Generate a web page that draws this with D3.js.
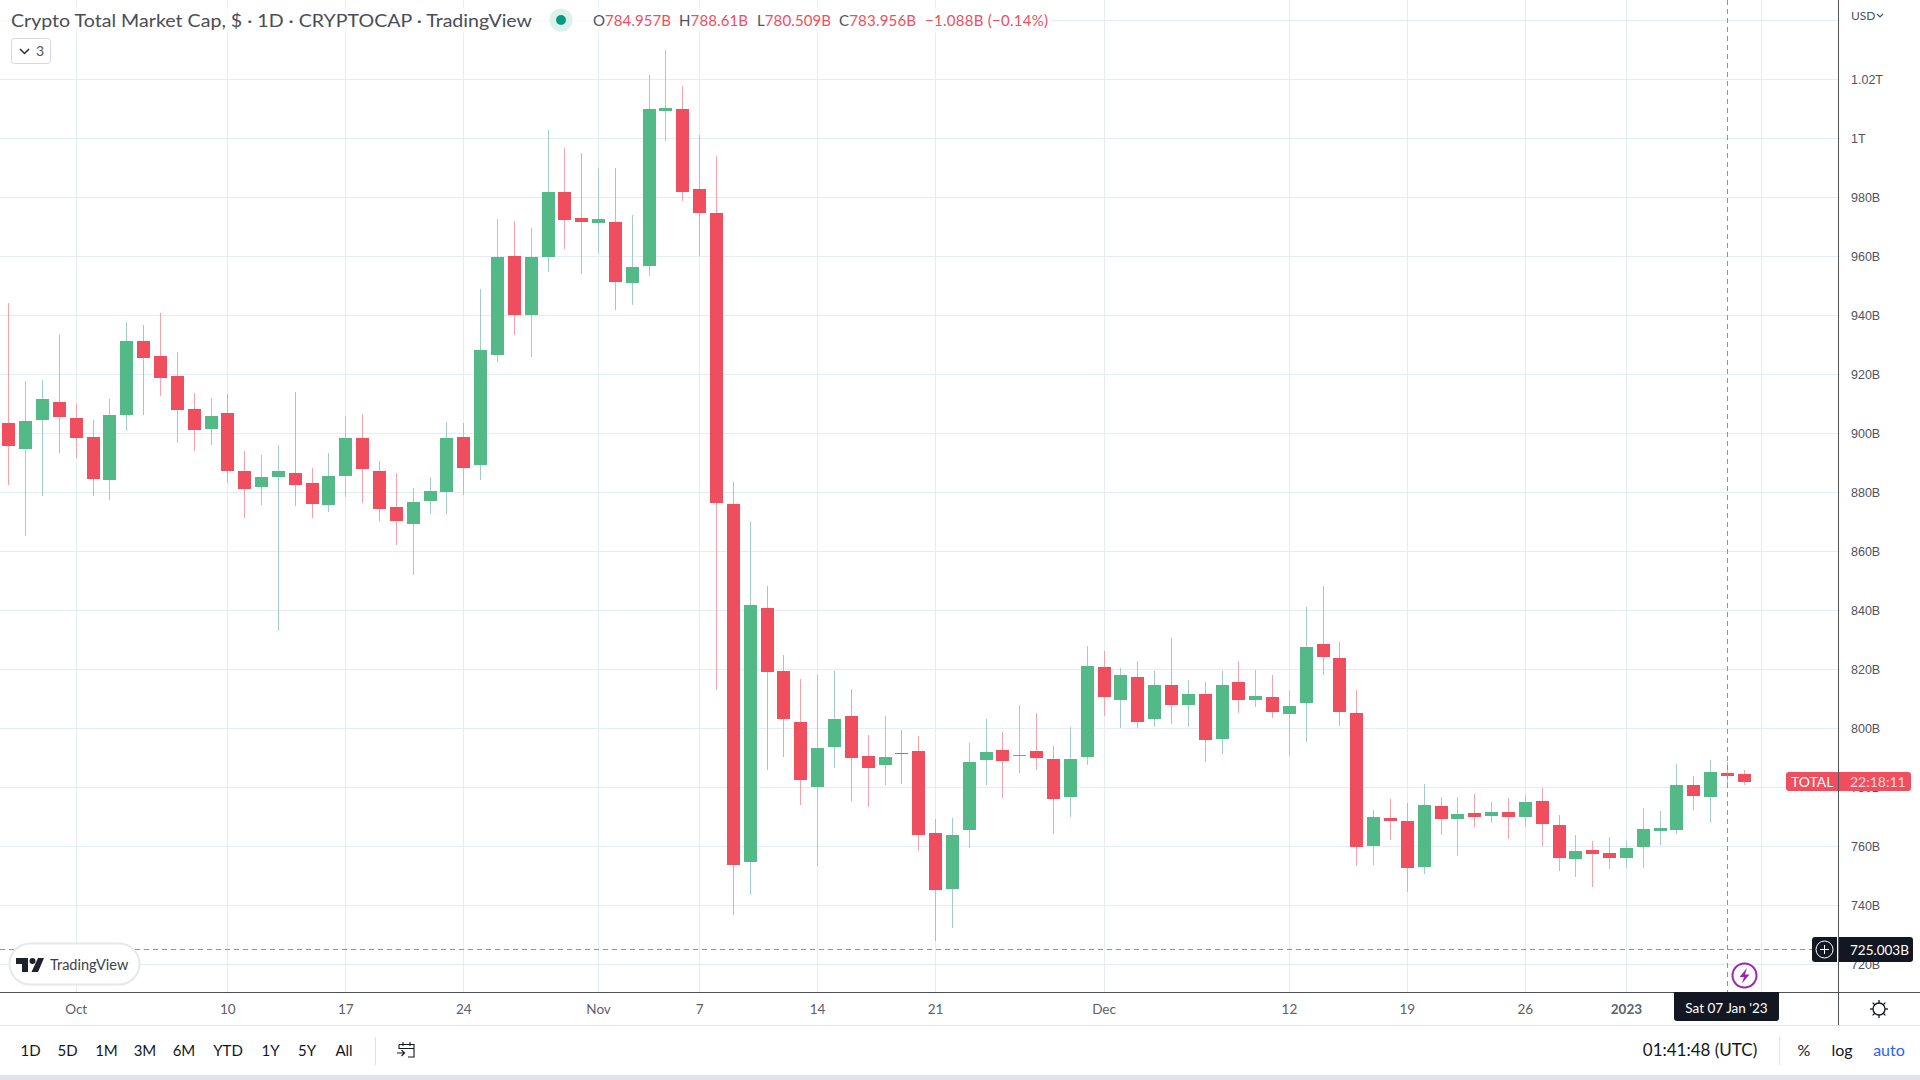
<!DOCTYPE html>
<html>
<head>
<meta charset="utf-8">
<title>Crypto Total Market Cap</title>
<script src="https://cdn.jsdelivr.net/npm/d3@7"></script>
<style>
  html, body { margin: 0; padding: 0; background: #fff; overflow: hidden; }
  svg { display: block; }
  text { font-family: "Lato", "Open Sans", sans-serif; }
  .price text { font-family: "Liberation Sans", sans-serif; }
</style>
</head>
<body>
<div id="chart"></div>
<script>
// daily candles, values in billions
const firstDay = "2022-09-27";
const lastDay = "2023-01-08";

const opens = [
  903.5, 894.7, 904.5, 910.6, 905.2, 898.8, 884.2, 906.2, 931.3, 926.2,
  919.4, 908.2, 901.5, 906.9, 887.2, 881.8, 885.2, 886.5, 883.2, 875.7,
  885.5, 898.4, 887.2, 875.0, 869.3, 877.1, 880.1, 898.8, 889.3, 926.5,
  960.1, 940.1, 959.8, 981.8, 973.0, 971.3, 971.6, 950.9, 956.7, 1009.2,
  1009.9, 982.8, 974.7, 876.0, 754.7, 840.8, 819.4, 802.1, 780.1, 793.7,
  804.2, 790.6, 787.6, 791.6, 792.3, 764.5, 745.5, 765.5, 789.3, 792.6,
  790.6, 792.3, 789.6, 776.7, 790.3, 820.8, 809.6, 817.4, 803.2, 814.7,
  807.9, 811.6, 796.4, 815.7, 809.6, 810.6, 804.9, 808.6, 828.6, 823.8,
  805.2, 760.1, 769.6, 768.6, 753.0, 773.7, 769.3, 771.3, 770.3, 771.6,
  769.9, 775.3, 767.2, 755.7, 758.7, 757.7, 756.0, 759.7, 765.2, 765.5,
  780.8, 776.7, 784.957, 784.5
];
const highs = [
  944.1, 917.7, 918.1, 933.3, 909.9, 904.5, 911.6, 937.7, 936.7, 940.8,
  927.6, 913.7, 912.0, 913.3, 894.0, 892.6, 896.0, 914.0, 888.2, 893.3,
  905.9, 906.5, 890.6, 886.5, 881.5, 885.2, 903.8, 903.5, 948.9, 972.6,
  972.0, 969.6, 1002.8, 996.7, 995.0, 989.9, 989.9, 974.0, 1021.5, 1029.9,
  1017.7, 1001.1, 994.0, 883.5, 870.3, 848.2, 824.8, 816.7, 818.1, 819.4,
  813.3, 797.7, 804.2, 799.4, 797.4, 769.3, 769.6, 795.0, 803.2, 798.7,
  807.9, 805.2, 794.0, 800.5, 827.9, 826.2, 820.4, 822.8, 819.4, 830.6,
  816.4, 815.7, 819.4, 822.8, 819.8, 818.1, 812.6, 841.1, 848.2, 829.3,
  813.0, 772.3, 776.0, 774.7, 781.1, 776.7, 776.7, 777.7, 775.0, 776.4,
  777.4, 779.8, 770.6, 763.8, 761.8, 763.1, 761.8, 773.0, 772.0, 787.9,
  783.8, 789.2, 788.61, 785.9
];
const lows = [
  882.5, 865.2, 878.8, 893.3, 891.6, 878.8, 877.4, 900.8, 906.2, 912.6,
  896.7, 894.0, 896.0, 883.2, 871.3, 875.7, 833.1, 875.4, 871.3, 873.3,
  878.4, 876.4, 870.3, 862.1, 852.0, 872.7, 872.7, 879.1, 884.2, 924.2,
  933.3, 925.9, 954.7, 962.5, 954.0, 961.1, 941.8, 943.5, 953.3, 999.1,
  978.7, 960.1, 813.0, 736.7, 743.5, 785.9, 790.3, 774.0, 753.3, 786.5,
  775.4, 773.3, 780.8, 781.1, 758.4, 727.9, 732.3, 759.4, 780.8, 776.4,
  784.8, 785.9, 764.2, 769.9, 787.6, 804.2, 800.1, 800.1, 800.4, 801.5,
  800.4, 788.6, 791.3, 805.2, 807.2, 803.5, 790.6, 795.4, 818.1, 800.8,
  753.3, 753.7, 762.1, 744.5, 750.6, 763.8, 756.7, 766.5, 767.9, 762.5,
  766.5, 760.1, 751.6, 749.6, 746.2, 752.3, 752.6, 752.6, 760.4, 764.2,
  772.3, 767.9, 780.509, 780.8
];
const closes = [
  895.7, 904.2, 911.6, 905.5, 898.4, 884.5, 906.2, 931.3, 925.5, 918.8,
  907.9, 901.1, 905.9, 887.2, 881.1, 885.2, 887.2, 882.5, 876.0, 885.5,
  898.4, 887.9, 874.3, 870.3, 876.7, 880.4, 898.4, 888.2, 928.2, 959.8,
  940.1, 959.8, 981.8, 972.3, 971.6, 972.6, 951.3, 956.4, 1009.9, 1010.3,
  981.8, 974.7, 876.4, 753.7, 841.8, 819.1, 803.2, 782.5, 793.3, 803.2,
  789.9, 786.5, 790.3, 791.3, 763.8, 745.2, 763.8, 788.6, 792.0, 788.9,
  790.9, 789.9, 776.0, 789.6, 821.1, 810.6, 818.1, 802.1, 814.7, 807.9,
  811.6, 796.0, 814.7, 809.6, 811.0, 805.5, 807.6, 827.6, 824.2, 805.5,
  759.8, 769.9, 768.6, 752.6, 774.0, 769.3, 770.9, 769.9, 771.6, 769.9,
  775.0, 767.6, 756.0, 758.4, 757.4, 756.0, 759.4, 765.9, 766.2, 780.8,
  777.0, 785.2, 783.956, 781.8
];

const priceTicks = [1040, 1020, 1000, 980, 960, 940, 920, 900, 880, 860, 840, 820, 800, 780, 760, 740, 720];
const timeTicks = ["2022-10-01", "2022-10-10", "2022-10-17", "2022-10-24", "2022-11-01", "2022-11-07", "2022-11-14",
  "2022-11-21", "2022-12-01", "2022-12-12", "2022-12-19", "2022-12-26", "2023-01-01", "2023-01-09"];
// the last gridline has no label, the crosshair date box covers it
const timeLabels = ["Oct", "10", "17", "24", "Nov", "7", "14", "21", "Dec", "12", "19", "26", "2023", ""];
const rangeButtons = ["1D", "5D", "1M", "3M", "6M", "YTD", "1Y", "5Y", "All"];
const legendParts = [["O", "784.957B"], ["H", "788.61B"], ["L", "780.509B"], ["C", "783.956B"]];
const crossPrice = 725.003;
const crossDay = "2023-01-07";

const width = 1920, height = 1080;
const plotRight = 1838, plotBottom = 992, axisBottom = 1026;
const up = "#53b987", down = "#ee4e5d", upWick = "#a3cccd", downWick = "#f7a1ab";
const grid = "#e4edf3", ink = "#50535e", dark = "#131722", axisLine = "#4f5258";

const parse = d3.utcParse("%Y-%m-%d");
const days = d3.utcDay.range(parse(firstDay), d3.utcDay.offset(parse(lastDay), 1));
const candles = days.map((d, i) => ({ day: d, o: opens[i], h: highs[i], l: lows[i], c: closes[i] }));

const x = d3.scaleUtc()
  .domain([parse(firstDay), parse("2023-01-09")])
  .range([8.8, 8.8 + 104 * 16.85]);
const y = d3.scaleLinear().domain([1020, 720]).range([79.5, 964.5]);

const svg = d3.select("#chart").append("svg").attr("width", width).attr("height", height);

// grid, done with the axes
const dateLookup = new Map(timeTicks.map((t, i) => [+parse(t), timeLabels[i]]));
const tickDates = timeTicks.map(parse);

const vGrid = svg.append("g").attr("transform", "translate(0," + plotBottom + ")")
  .call(d3.axisBottom(x).offset(0).tickValues(tickDates).tickSize(-plotBottom).tickFormat(""));
vGrid.select(".domain").remove();
vGrid.selectAll("line").attr("stroke", grid).attr("transform", d => "translate(" + (Math.floor(x(d)) + 0.5 - x(d)) + ",0)");

const hGrid = svg.append("g").attr("transform", "translate(" + plotRight + ",0)")
  .call(d3.axisLeft(y).offset(0).tickValues(priceTicks).tickSize(plotRight).tickFormat(""));
hGrid.select(".domain").remove();
hGrid.selectAll("line").attr("stroke", grid);

// candles
const candle = svg.append("g").selectAll("g").data(candles).join("g");
candle.append("rect")
  .attr("x", d => Math.floor(x(d.day)))
  .attr("width", 1)
  .attr("y", d => Math.round(y(d.h)))
  .attr("height", d => Math.round(y(d.l)) - Math.round(y(d.h)))
  .attr("fill", d => d.c >= d.o ? upWick : downWick);
candle.append("rect")
  .attr("x", d => Math.floor(x(d.day)) - 6)
  .attr("width", 13)
  .attr("y", d => Math.round(y(Math.max(d.o, d.c))))
  .attr("height", d => Math.max(1, Math.round(y(Math.min(d.o, d.c))) - Math.round(y(Math.max(d.o, d.c)))))
  .attr("fill", d => d.c >= d.o ? up : down);

// crosshair
const crossX = Math.floor(x(parse(crossDay))) + 0.5;
const crossY = Math.floor(y(crossPrice)) + 0.5;
svg.append("line").attr("x1", crossX).attr("x2", crossX).attr("y1", 0).attr("y2", plotBottom)
  .attr("stroke", "#90939c").attr("stroke-dasharray", "5 4");
svg.append("line").attr("x1", 0).attr("x2", 1812).attr("y1", crossY).attr("y2", crossY)
  .attr("stroke", "#90939c").attr("stroke-dasharray", "5 4");

// legend on top, the grid shows through a bit
svg.append("rect").attr("x", 0).attr("y", 7).attr("width", 1052).attr("height", 26).attr("fill", "#fff").attr("opacity", 0.65);
svg.append("text").attr("x", 11).attr("y", 26.5).attr("font-size", 18).attr("fill", "#4a4d55")
  .attr("textLength", 521).attr("lengthAdjust", "spacingAndGlyphs")
  .text("Crypto Total Market Cap, $ · 1D · CRYPTOCAP · TradingView");
svg.append("circle").attr("cx", 561).attr("cy", 20).attr("r", 11.5).attr("fill", "#dcf1ec");
svg.append("circle").attr("cx", 561).attr("cy", 20).attr("r", 5).attr("fill", "#089981");

const legendX = [593, 679, 757, 839];
const legendW = [78, 69, 74, 77];
const legend = svg.append("g").attr("font-size", 15);
legendParts.forEach((p, i) => {
  const t = legend.append("text").attr("x", legendX[i]).attr("y", 25.5).attr("textLength", legendW[i]);
  t.append("tspan").attr("fill", "#50535e").text(p[0]);
  t.append("tspan").attr("fill", down).text(p[1]);
});
legend.append("text").attr("x", 925).attr("y", 25.5).attr("fill", down).attr("textLength", 123).text("−1.088B (−0.14%)");

// collapsed indicators button
svg.append("rect").attr("x", 11.5).attr("y", 38.5).attr("width", 39).attr("height", 25).attr("rx", 3)
  .attr("fill", "#fff").attr("stroke", "#d6d8de");
svg.append("path").attr("d", "M20 49 l4.5 4.5 l4.5 -4.5").attr("fill", "none").attr("stroke", "#2a2e39").attr("stroke-width", 1.5);
svg.append("text").attr("x", 36).attr("y", 56).attr("font-size", 14).attr("fill", "#50535e").text("3");

// TradingView badge
svg.append("rect").attr("x", 9.5).attr("y", 943.5).attr("width", 130).attr("height", 41).attr("rx", 20.5)
  .attr("fill", "#fff").attr("stroke", "#e6e8ec").attr("stroke-width", 2);
svg.append("path").attr("d", "M16 958 h12 v14 h-6 v-8 h-6z M38 958 h6 l-6 14 h-6.5z").attr("fill", "#1e222d");
svg.append("circle").attr("cx", 32.5).attr("cy", 961).attr("r", 3).attr("fill", "#1e222d");
svg.append("text").attr("x", 50).attr("y", 970).attr("font-size", 14.5).attr("fill", "#3d4048").text("TradingView");

// white behind the axes and the bottom bar
svg.append("rect").attr("x", plotRight).attr("y", 0).attr("width", width - plotRight).attr("height", axisBottom).attr("fill", "#fff");
svg.append("rect").attr("x", 0).attr("y", plotBottom).attr("width", width).attr("height", axisBottom - plotBottom).attr("fill", "#fff");

// price axis
const priceAxis = svg.append("g").attr("class", "price").attr("transform", "translate(" + plotRight + ",0)")
  .call(d3.axisRight(y).offset(0).tickValues(priceTicks).tickSize(0).tickPadding(13)
    .tickFormat(v => v > 1020 ? "" : v >= 1000 ? d3.format(".3~f")(v / 1000) + "T" : v + "B"));
priceAxis.select(".domain").remove();
priceAxis.selectAll("text").attr("font-size", 12.5).attr("fill", ink);

svg.append("text").attr("class", "price").attr("x", 1851).attr("y", 20).attr("font-size", 12)
  .attr("font-family", "Liberation Sans").attr("fill", "#50535e").text("USD");
svg.append("path").attr("d", "M1877 14 l3 3 l3 -3").attr("fill", "none").attr("stroke", "#50535e").attr("stroke-width", 1.2);

// time axis
const timeAxis = svg.append("g").attr("transform", "translate(0," + plotBottom + ")")
  .call(d3.axisBottom(x).offset(0).tickValues(tickDates).tickSize(0).tickPadding(12)
    .tickFormat(d => dateLookup.get(+d)));
timeAxis.select(".domain").remove();
timeAxis.selectAll("text").attr("font-size", 13.5).attr("fill", "#5d606b").attr("font-family", "Lato")
  .attr("font-weight", d => dateLookup.get(+d) === "2023" ? 700 : 400);

// frame lines
svg.append("rect").attr("x", 0).attr("y", plotBottom).attr("width", width).attr("height", 1).attr("fill", axisLine);
svg.append("rect").attr("x", plotRight).attr("y", 0).attr("width", 1).attr("height", axisBottom).attr("fill", axisLine);
svg.append("rect").attr("x", 0).attr("y", axisBottom - 1).attr("width", width).attr("height", 1).attr("fill", "#e0e3eb");

// last price tag
const lastY = 782;
svg.append("path").attr("d", "M1838 772 h-49 a3 3 0 0 0 -3 3 v13 a3 3 0 0 0 3 3 h49 z").attr("fill", down);
svg.append("path").attr("d", "M1839 772 h69 a3 3 0 0 1 3 3 v13 a3 3 0 0 1 -3 3 h-69 z").attr("fill", down);
svg.append("text").attr("x", 1791).attr("y", lastY + 5).attr("font-size", 14).attr("fill", "#fff").text("TOTAL");
svg.append("text").attr("x", 1850).attr("y", lastY + 5).attr("font-size", 14).attr("fill", "#fff").attr("opacity", 0.75).text("22:18:11");

// crosshair tags
svg.append("path").attr("d", "M1837 937 h-22 a3 3 0 0 0 -3 3 v19 a3 3 0 0 0 3 3 h22 z").attr("fill", dark);
svg.append("circle").attr("cx", 1824.5).attr("cy", crossY).attr("r", 8.5).attr("fill", "none").attr("stroke", "#fff").attr("stroke-width", 1);
svg.append("path").attr("d", "M1820 949.5 h9 M1824.5 945 v9").attr("stroke", "#fff").attr("stroke-width", 1);
svg.append("path").attr("d", "M1839 937 h71 a3 3 0 0 1 3 3 v19 a3 3 0 0 1 -3 3 h-71 z").attr("fill", dark);
svg.append("text").attr("class", "price").attr("x", 1850).attr("y", crossY + 5).attr("font-size", 13.5)
  .attr("font-weight", 400).attr("font-family", "Liberation Sans").attr("fill", "#fff")
  .text(crossPrice.toFixed(3) + "B");

svg.append("path").attr("d", "M1674 992 h105 v26 a3 3 0 0 1 -3 3 h-99 a3 3 0 0 1 -3 -3 z").attr("fill", dark);
svg.append("text").attr("x", 1726.5).attr("y", 1013).attr("text-anchor", "middle").attr("font-size", 13.5).attr("fill", "#fff")
  .text(d3.utcFormat("%a %d %b '%y")(parse(crossDay)));

// lightning badge
svg.append("circle").attr("cx", 1744.5).attr("cy", 975.5).attr("r", 12).attr("fill", "#fff").attr("stroke", "#9c27b0").attr("stroke-width", 2);
svg.append("path").attr("d", "M1747 968 l-7.5 9 h4.5 l-2 6.5 l7.5 -9 h-4.5 z").attr("fill", "#9c27b0");

// settings gear
svg.append("circle").attr("cx", 1879).attr("cy", 1009).attr("r", 6).attr("fill", "none").attr("stroke", "#131722").attr("stroke-width", 1.3);
d3.range(8).forEach(i => {
  const a = i * Math.PI / 4;
  svg.append("line")
    .attr("x1", 1879 + Math.cos(a) * 6).attr("y1", 1009 + Math.sin(a) * 6)
    .attr("x2", 1879 + Math.cos(a) * 9).attr("y2", 1009 + Math.sin(a) * 9)
    .attr("stroke", "#131722").attr("stroke-width", 1.3);
});

// bottom bar
const buttonX = [30.5, 67.5, 106.5, 145, 184, 228, 270.5, 307, 344];
svg.append("g").selectAll("text").data(rangeButtons).join("text")
  .attr("x", (d, i) => buttonX[i]).attr("y", 1056).attr("text-anchor", "middle")
  .attr("font-size", 15).attr("fill", "#131722").text(d => d);
svg.append("rect").attr("x", 375).attr("y", 1037).attr("width", 1).attr("height", 28).attr("fill", "#e0e3eb");
svg.append("path").attr("d", "M399 1044.5 h15 v12.5 h-6 M399 1044.5 v4 h15 M403 1042 v4 M410 1042 v4 M397 1053 h7 M401.5 1050 l3 3 l-3 3")
  .attr("fill", "none").attr("stroke", "#131722").attr("stroke-width", 1.1);
svg.append("text").attr("x", 1700).attr("y", 1056).attr("text-anchor", "middle").attr("font-size", 17).attr("fill", "#131722").text("01:41:48 (UTC)");
svg.append("rect").attr("x", 1779).attr("y", 1037).attr("width", 1).attr("height", 28).attr("fill", "#e0e3eb");
svg.append("text").attr("x", 1804).attr("y", 1056).attr("text-anchor", "middle").attr("font-size", 16).attr("fill", "#131722").text("%");
svg.append("text").attr("x", 1842).attr("y", 1056).attr("text-anchor", "middle").attr("font-size", 16).attr("fill", "#131722").text("log");
svg.append("text").attr("x", 1889).attr("y", 1056).attr("text-anchor", "middle").attr("font-size", 16).attr("fill", "#2962ff").text("auto");
svg.append("rect").attr("x", 0).attr("y", 1075).attr("width", width).attr("height", 5).attr("fill", "#e0e3eb");
</script>
</body>
</html>
